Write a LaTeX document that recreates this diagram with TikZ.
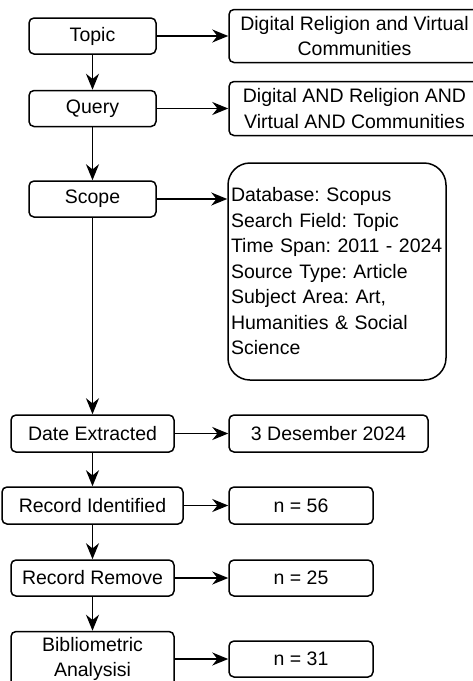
\documentclass[tikz,border=0pt]{standalone}
\usepackage{fontspec}
\setmainfont{Liberation Sans}
\usetikzlibrary{positioning,arrows.meta}
\frenchspacing

\begin{document}
\begin{tikzpicture}[
box/.style={rectangle, draw=black, fill=white, line width=1.5pt, rounded corners=5pt, minimum width=127pt, minimum height=36pt, inner sep=2pt, align=center, font=\fontsize{19.5}{25.5}\selectfont},
link/.style={-{Stealth[length=16pt,width=13pt]}, line width=1.5pt}
]
\useasboundingbox (0pt,0pt) rectangle (472pt,-681pt);

\node[box](topic) at (92.5pt,-36pt){Topic};
\node[box](query)[below of = topic, node distance=72.5pt]{Query};
\node[box](scope)[below of = query, node distance=90.5pt]{Scope};
\node[box, minimum width=163pt, minimum height=37pt](date)[below of = scope, node distance=234.5pt]{Date Extracted};
\node[box, minimum width=181pt, minimum height=37pt](identified)[below of = date, node distance=72pt]{Record Identified};
\node[box, minimum width=163pt](removed)[below of = identified, node distance=72.5pt]{Record Remove};
\node[box, minimum width=163pt, minimum height=55pt](analysis)[below of = removed, node distance=81pt]{Bibliometric\\Analysisi};

\node[box, minimum width=251pt, minimum height=53pt](topic_val)[right of = topic, node distance=262pt]{Digital Religion and Virtual\\Communities};
\node[box, minimum width=251pt, minimum height=54pt](query_val)[right of = query, node distance=262pt]{Digital AND Religion AND\\Virtual AND Communities};
\node[box, rounded corners=22pt, minimum width=218pt, minimum height=217pt, text width=212pt, align=left](scope_val)[right of = scope, node distance=244.5pt, yshift=-72.5pt]{Database: Scopus\\Search Field: Topic\\Time Span: 2011 - 2024\\Source Type: Article\\Subject Area: Art,\\Humanities \& Social\\Science};
\node[box, minimum width=199pt, minimum height=37pt](date_val)[right of = date, node distance=236pt]{3 Desember 2024};
\node[box, minimum width=144pt, minimum height=37pt](identified_val)[right of = identified, node distance=208.5pt]{n = 56};
\node[box, minimum width=144pt](removed_val)[right of = removed, node distance=208.5pt]{n = 25};
\node[box, minimum width=144pt](analysis_val)[right of = analysis, node distance=208.5pt]{n = 31};

\draw[link] (topic) -- (query);
\draw[link] (query) -- (scope);
\draw[link] (scope) -- (date);
\draw[link] (date) -- (identified);
\draw[link] (identified) -- (removed);
\draw[link] (removed) -- (analysis);

\draw[link] (topic) -- (topic_val);
\draw[link] (query) -- (query_val);
\draw[link] (scope) -- (scope -| scope_val.west);
\draw[link] (date) -- (date_val);
\draw[link] (identified) -- (identified_val);
\draw[link] (removed) -- (removed_val);
\draw[link] (analysis) -- (analysis_val);

\end{tikzpicture}
\end{document}
